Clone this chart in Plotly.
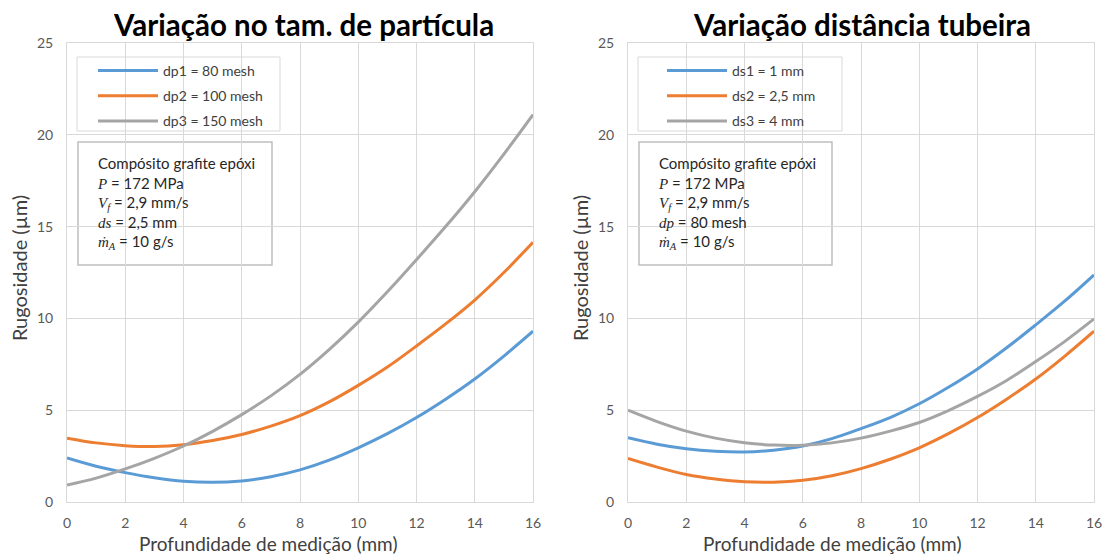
import plotly.graph_objects as go

# ---- data ----
x_mm = [0, 1, 2, 3, 4, 5, 6, 7, 8, 9, 10, 11, 12, 13, 14, 15, 16]

# Left chart: particle size variation
dp1_80 = [2.4, 1.95, 1.6, 1.32, 1.13, 1.07, 1.15, 1.38, 1.75, 2.28, 2.95, 3.72, 4.6, 5.6, 6.7, 7.95, 9.3]
dp2_100 = [3.48, 3.22, 3.07, 3.02, 3.12, 3.35, 3.68, 4.13, 4.7, 5.45, 6.35, 7.35, 8.5, 9.7, 11.0, 12.5, 14.15]
dp3_150 = [0.92, 1.3, 1.8, 2.38, 3.05, 3.85, 4.76, 5.78, 6.95, 8.3, 9.8, 11.45, 13.2, 15.0, 16.9, 18.95, 21.1]

# Right chart: nozzle distance variation
ds1_1 = [3.5, 3.15, 2.9, 2.76, 2.72, 2.82, 3.05, 3.45, 4.0, 4.6, 5.35, 6.25, 7.25, 8.4, 9.65, 10.95, 12.37]
ds2_25 = [2.37, 1.9, 1.5, 1.25, 1.1, 1.08, 1.18, 1.43, 1.82, 2.33, 2.95, 3.72, 4.6, 5.6, 6.7, 7.95, 9.3]
ds3_4 = [5.0, 4.38, 3.86, 3.48, 3.23, 3.1, 3.09, 3.22, 3.48, 3.86, 4.33, 4.98, 5.75, 6.62, 7.65, 8.75, 9.97]

left_names = ["dp1 = 80 mesh", "dp2 = 100 mesh", "dp3 = 150 mesh"]
right_names = ["ds1 = 1 mm", "ds2 = 2,5 mm", "ds3 = 4 mm"]
colors = ["#5B9BD5", "#ED7D31", "#A5A5A5"]

x_ticks = [0, 2, 4, 6, 8, 10, 12, 14, 16]
y_ticks = [0, 5, 10, 15, 20, 25]

FONT = "Lato"
OFF = 8  # page body margin
W, H = 1111 - OFF, 555 - OFF

def px(v):
    return (v - OFF) / W

def py(v):
    return 1 - (v - OFF) / H

fig = go.Figure()

for ys, name, c in zip([dp1_80, dp2_100, dp3_150], left_names, colors):
    fig.add_trace(go.Scatter(x=x_mm, y=ys, name=name, mode="lines",
                             line=dict(color=c, width=3, shape="spline"),
                             xaxis="x", yaxis="y", legend="legend", legendgroup=name))
for ys, name, c in zip([ds1_1, ds2_25, ds3_4], right_names, colors):
    fig.add_trace(go.Scatter(x=x_mm, y=ys, name=name, mode="lines",
                             line=dict(color=c, width=3, shape="spline"),
                             xaxis="x2", yaxis="y2", legend="legend2", legendgroup=name))

axis_common = dict(showgrid=True, gridcolor="#d9d9d9", gridwidth=1, zeroline=False,
                   showline=True, linecolor="#d9d9d9", mirror=True, ticks="", automargin=False,
                   tickfont=dict(family=FONT, size=14, color="#595959"))

ydom = [py(502), py(43)]
fig.update_layout(
    template="none",
    width=W, height=H,
    margin=dict(l=0, r=0, t=0, b=0, pad=0),
    paper_bgcolor="white", plot_bgcolor="white",
    font=dict(family=FONT, color="#404040"),
    xaxis=dict(domain=[px(67), px(533)], range=[0, 16], tickvals=x_ticks, anchor="y",
               ticklabelstandoff=8, **axis_common),
    yaxis=dict(domain=ydom, range=[0, 25], tickvals=y_ticks, anchor="x",
               ticklabelstandoff=10, **axis_common),
    xaxis2=dict(domain=[px(628), px(1094)], range=[0, 16], tickvals=x_ticks, anchor="y2",
                ticklabelstandoff=8, **axis_common),
    yaxis2=dict(domain=ydom, range=[0, 25], tickvals=y_ticks, anchor="x2",
                ticklabelstandoff=10, **axis_common),
    legend=dict(x=px(93), y=py(55), xanchor="left", yanchor="top", bgcolor="rgba(0,0,0,0)",
                borderwidth=0, font=dict(family=FONT, size=14, color="#404040"),
                tracegroupgap=4, traceorder="grouped", itemwidth=60),
    legend2=dict(x=px(662), y=py(55), xanchor="left", yanchor="top", bgcolor="rgba(0,0,0,0)",
                 borderwidth=0, font=dict(family=FONT, size=14, color="#404040"),
                 tracegroupgap=4, traceorder="grouped", itemwidth=60),
    showlegend=True,
)

shapes = []
# legend boxes
for (x0, x1) in [(77, 280), (638, 842)]:
    shapes.append(dict(type="rect", xref="paper", yref="paper", x0=px(x0), x1=px(x1), y0=py(131), y1=py(57),
                       line=dict(color="#d9d9d9", width=1), fillcolor="white", layer="between"))
# info boxes
for (x0, x1) in [(78, 272), (639, 832)]:
    shapes.append(dict(type="rect", xref="paper", yref="paper", x0=px(x0), x1=px(x1), y0=py(265), y1=py(142),
                       line=dict(color="#bfbfbf", width=1.5), fillcolor="white", layer="between"))
fig.update_layout(shapes=shapes)

MATH = "<span style=\"font-family:'Liberation Serif'\"><i>%s</i></span>"
info_left = ("Compósito grafite epóxi<br>"
             + MATH % "P" + " = 172 MPa<br>"
             + MATH % "V<sub>f</sub>" + " = 2,9 mm/s<br>"
             + MATH % "ds" + " = 2,5 mm<br>"
             + MATH % "m\u0307<sub>A</sub>" + " = 10 g/s")
info_right = ("Compósito grafite epóxi<br>"
              + MATH % "P" + " = 172 MPa<br>"
              + MATH % "V<sub>f</sub>" + " = 2,9 mm/s<br>"
              + MATH % "dp" + " = 80 mesh<br>"
              + MATH % "m\u0307<sub>A</sub>" + " = 10 g/s")

ann = []
for cx, title in [(303, "Variação no tam. de partícula"), (862, "Variação distância tubeira")]:
    ann.append(dict(text="<b>" + title + "</b>", x=px(cx), y=py(24.5), xref="paper", yref="paper",
                    showarrow=False, xanchor="center", yanchor="middle",
                    font=dict(family=FONT, size=29.5, color="#000000")))
for cx in [268, 832]:
    ann.append(dict(text="Profundidade de medição (mm)", x=px(cx), y=py(543), xref="paper", yref="paper",
                    showarrow=False, xanchor="center", yanchor="middle",
                    font=dict(family=FONT, size=19, color="#404040")))
for cx in [19, 580]:
    ann.append(dict(text="Rugosidade (µm)", x=px(cx), y=py(268), xref="paper", yref="paper",
                    showarrow=False, xanchor="center", yanchor="middle", textangle=-90,
                    font=dict(family=FONT, size=20, color="#404040")))
for x0, txt in [(95, info_left), (656, info_right)]:
    ann.append(dict(text=txt, x=px(x0), y=py(152), xref="paper", yref="paper",
                    showarrow=False, xanchor="left", yanchor="top", align="left",
                    font=dict(family=FONT, size=15, color="#262626")))
fig.update_layout(annotations=ann)

fig.write_html("out.html")
